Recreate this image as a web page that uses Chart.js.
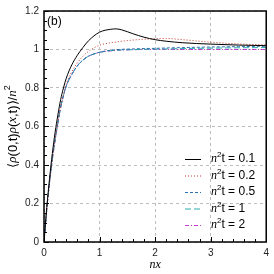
<!DOCTYPE html>
<html>
<head>
<meta charset="utf-8">
<script src="https://cdn.jsdelivr.net/npm/chart.js@4"></script>
<style>
  html, body { margin: 0; padding: 0; background: #fff; }
  #wrap { width: 274px; height: 274px; }
</style>
</head>
<body>
<div id="wrap"><canvas id="corrChart" width="274" height="274"></canvas></div>
<script>
// x positions (n x) shared by every curve
const xs = [0, 0.05, 0.1, 0.15, 0.2, 0.25, 0.3, 0.35, 0.4, 0.5, 0.6, 0.7, 0.8, 1.0, 1.2, 1.3, 1.4, 1.6, 1.8, 2.0, 2.2, 2.5, 3.0, 3.5, 4.0];

// correlation values, one array per n^2 t
const t01 = [0, 0.18, 0.33, 0.46, 0.57, 0.66, 0.74, 0.80, 0.85, 0.92, 0.97, 1.01, 1.045, 1.09, 1.105, 1.107, 1.102, 1.082, 1.064, 1.051, 1.043, 1.035, 1.028, 1.023, 1.02];
const t02 = [0, 0.17, 0.31, 0.43, 0.53, 0.62, 0.70, 0.765, 0.82, 0.885, 0.93, 0.965, 0.99, 1.022, 1.035, 1.039, 1.043, 1.049, 1.053, 1.056, 1.057, 1.051, 1.038, 1.029, 1.024];
const t05 = [0, 0.17, 0.31, 0.43, 0.53, 0.62, 0.70, 0.76, 0.81, 0.87, 0.915, 0.945, 0.965, 0.986, 0.996, 0.999, 1.001, 1.003, 1.005, 1.006, 1.008, 1.01, 1.013, 1.015, 1.017];
const t1 = [0, 0.17, 0.31, 0.43, 0.53, 0.62, 0.70, 0.76, 0.81, 0.87, 0.915, 0.945, 0.965, 0.985, 0.994, 0.996, 0.998, 0.999, 1.001, 1.002, 1.003, 1.005, 1.007, 1.009, 1.01];
const t2 = [0, 0.17, 0.31, 0.43, 0.53, 0.62, 0.70, 0.76, 0.81, 0.87, 0.915, 0.945, 0.965, 0.985, 0.993, 0.995, 0.997, 0.999, 1.0, 1.0, 1.0, 1.0, 1.0, 1.0, 1.0];

const seriesNames = ['0.1', '0.2', '0.5', '1', '2'];
const seriesValues = [t01, t02, t05, t1, t2];
const seriesColors = ['#000000', '#c0392b', '#2f6fae', '#2aabb0', '#c43ccc'];
const seriesDashes = [[], [1, 2], [3, 2], [6, 3], [4, 2, 1, 2]];

const xTicks = [0, 1, 2, 3, 4];
const yTicks = [0, 0.2, 0.4, 0.6, 0.8, 1, 1.2];

const FONT = '"Liberation Sans", Arial, sans-serif';
const MATH = 'italic 13px "Liberation Serif", serif';
const UPRIGHT = '13px ' + FONT;

// y axis title pieces: [text, font]
const yTitle = [
  ['⟨', UPRIGHT], ['ρ', MATH], ['(0,t)', UPRIGHT], ['ρ', MATH], ['(', UPRIGHT],
  ['x', MATH], [',t)⟩/', UPRIGHT], ['n', MATH], ['2', '9px ' + FONT]
];

// frame, inward ticks, y title, "(b)" and the legend
const decorations = {
  id: 'decorations',
  afterDraw(chart) {
    const ctx = chart.ctx;
    const a = chart.chartArea;
    const sx = chart.scales.x, sy = chart.scales.y;
    ctx.save();
    ctx.strokeStyle = '#000';
    ctx.lineWidth = 1;
    // minor + major ticks on bottom and left
    for (let i = 0; i <= 20; i++) {
      const px = Math.round(sx.getPixelForValue(i * 0.2)) + 0.5;
      ctx.beginPath();
      ctx.moveTo(px, a.bottom);
      ctx.lineTo(px, a.bottom - (i % 5 === 0 ? 5 : 3));
      ctx.stroke();
    }
    for (let i = 0; i <= 24; i++) {
      const py = Math.round(sy.getPixelForValue(i * 0.05)) + 0.5;
      ctx.beginPath();
      ctx.moveTo(a.left, py);
      ctx.lineTo(a.left + (i % 4 === 0 ? 5 : 3), py);
      ctx.stroke();
    }
    // box
    ctx.lineWidth = 1.5;
    ctx.strokeRect(a.left, a.top, a.right - a.left, a.bottom - a.top);

    ctx.fillStyle = '#000';
    ctx.textAlign = 'left';
    ctx.textBaseline = 'middle';

    // y title, rotated
    let total = 0;
    yTitle.forEach(([s, f]) => { ctx.font = f; total += ctx.measureText(s).width; });
    ctx.save();
    ctx.translate(13, (a.top + a.bottom) / 2);
    ctx.rotate(-Math.PI / 2);
    let ox = -total / 2;
    yTitle.forEach(([s, f], i) => {
      ctx.font = f;
      ctx.fillText(s, ox, i === yTitle.length - 1 ? -5 : 0);
      ox += ctx.measureText(s).width;
    });
    ctx.restore();

    // panel label
    ctx.font = '12px ' + FONT;
    ctx.fillText('(b)', a.left + 3, a.top + 11);

    // legend
    const lx = 185, ly = 159, step = 16.5;
    chart.data.datasets.forEach((ds, i) => {
      const y = ly + i * step;
      ctx.strokeStyle = ds.borderColor;
      ctx.lineWidth = 1;
      ctx.setLineDash(ds.borderDash);
      ctx.beginPath();
      ctx.moveTo(lx, y + 0.5);
      ctx.lineTo(lx + 16, y + 0.5);
      ctx.stroke();
      ctx.setLineDash([]);
      let tx = lx + 26;
      ctx.fillStyle = '#000';
      ctx.font = 'italic 12px "Liberation Serif", serif';
      ctx.fillText('n', tx, y);
      tx += ctx.measureText('n').width;
      ctx.font = '8px ' + FONT;
      ctx.fillText('2', tx, y - 4);
      tx += ctx.measureText('2').width;
      ctx.font = '12px ' + FONT;
      ctx.fillText('t = ' + seriesNames[i], tx, y);
    });
    ctx.restore();
  }
};

const ctx = document.getElementById('corrChart').getContext('2d');
new Chart(ctx, {
  type: 'line',
  data: {
    datasets: seriesValues.map((vals, i) => ({
      label: 'n²t = ' + seriesNames[i],
      data: xs.map((x, j) => ({ x: x, y: vals[j] })),
      borderColor: seriesColors[i],
      borderDash: seriesDashes[i],
      borderWidth: 1,
      pointRadius: 0,
      fill: false,
      cubicInterpolationMode: 'monotone'
    }))
  },
  plugins: [decorations],
  options: {
    responsive: false,
    animation: false,
    layout: { padding: { left: 2, right: 5, top: 5, bottom: 2 } },
    plugins: { legend: { display: false }, tooltip: { enabled: false } },
    scales: {
      x: {
        type: 'linear',
        min: 0, max: 4,
        afterBuildTicks: s => { s.ticks = xTicks.map(v => ({ value: v })); },
        afterFit: s => { s.height = 30; },
        grid: { color: '#bdbdbd', drawTicks: false, lineWidth: 1 },
        border: { display: false, dash: [3, 3] },
        ticks: { color: '#222', font: { family: FONT, size: 10 }, padding: 5, maxRotation: 0 },
        title: { display: true, text: 'nx', color: '#000', font: { family: '"Liberation Serif", serif', size: 12, style: 'italic' }, padding: { top: 1, bottom: 0 } }
      },
      y: {
        type: 'linear',
        min: 0, max: 1.2,
        afterBuildTicks: s => { s.ticks = yTicks.map(v => ({ value: v })); },
        afterFit: s => { s.width = 42; },
        grid: { color: '#bdbdbd', drawTicks: false, lineWidth: 1 },
        border: { display: false, dash: [3, 3] },
        ticks: { color: '#222', font: { family: FONT, size: 10 }, padding: 5, callback: v => String(Math.round(v * 10) / 10) }
      }
    }
  }
});
</script>
</body>
</html>
